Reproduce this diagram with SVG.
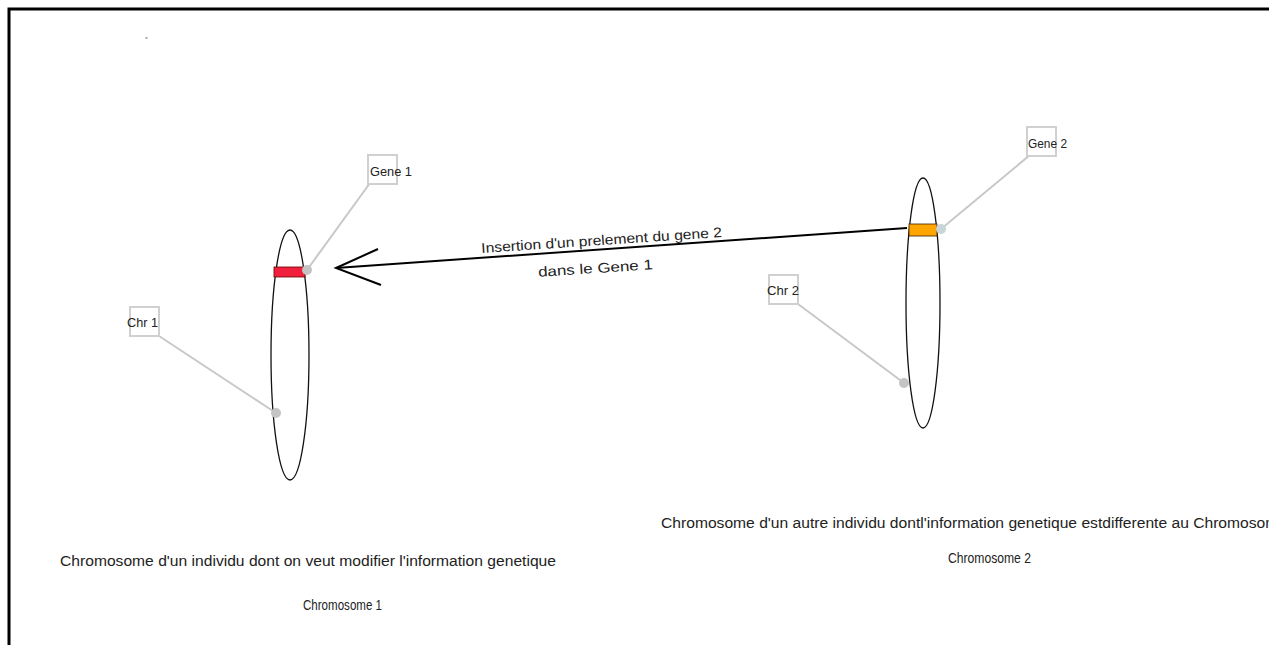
<svg xmlns="http://www.w3.org/2000/svg" width="1269" height="645" viewBox="0 0 1269 645">
<style>
.lbl{font-family:"Liberation Sans",Arial,sans-serif;font-size:13.5px;fill:#222}
.alb{font-family:"Liberation Sans",Arial,sans-serif;font-size:14px;fill:#222}
.cap{font-family:"Liberation Sans",Arial,sans-serif;font-size:14px;fill:#222}
.box{fill:#fff;stroke:#d0d0d0;stroke-width:2}
.lnk{stroke:#c8c8c8;stroke-width:2;fill:none}
.dot{fill:#c4c4c4}
.chr{fill:none;stroke:#111;stroke-width:1.3}
</style>
<rect width="1269" height="645" fill="#fff"/>
<path d="M9,645 V9 H1269" fill="none" stroke="#000" stroke-width="3"/>
<rect x="145.5" y="37.5" width="2" height="1" fill="#555"/>
<g id="connectors">
<line class="lnk" x1="370" y1="183" x2="307" y2="270"/>
<line class="lnk" x1="159" y1="336" x2="276" y2="413"/>
<line class="lnk" x1="1030" y1="155" x2="941" y2="229"/>
<line class="lnk" x1="798" y1="304" x2="904" y2="383"/>
<g id="insertion-arrow" stroke="#000" stroke-width="2" fill="none">
<line x1="907" y1="228" x2="336" y2="268"/>
<polyline points="378,249 336,268 381,285"/>
</g>
<text class="alb" x="481" y="245" textLength="241" lengthAdjust="spacingAndGlyphs" transform="rotate(-3.8 601 240)">Insertion d'un prelement du gene 2</text>
<text class="alb" x="538" y="273" textLength="115" lengthAdjust="spacingAndGlyphs" transform="rotate(-3.8 596 269)">dans le Gene 1</text>
</g>
<g id="chromosome1">
<ellipse class="chr" cx="290" cy="355" rx="19" ry="125"/>
<rect x="274" y="267" width="31" height="10" fill="#f0203c" stroke="#600" stroke-width="0.8"/>
<circle class="dot" cx="307" cy="270" r="5"/>
<circle class="dot" cx="276" cy="413" r="5"/>
</g>
<g id="gene1">
<rect class="box" x="368" y="155" width="29" height="29"/>
<text class="lbl" x="370" y="176" textLength="42" lengthAdjust="spacingAndGlyphs">Gene 1</text>
</g>
<g id="chr1">
<rect class="box" x="130" y="307" width="29" height="29"/>
<text class="lbl" x="127" y="327" textLength="31" lengthAdjust="spacingAndGlyphs">Chr 1</text>
</g>
<g id="chromosome2">
<ellipse class="chr" cx="923" cy="303" rx="17" ry="125"/>
<rect x="909" y="224" width="28" height="12" fill="#ffa500" stroke="#402000" stroke-width="0.8"/>
<circle cx="941" cy="229" r="5" fill="#c8d4d8"/>
<circle class="dot" cx="904" cy="383" r="5"/>
</g>
<g id="gene2">
<rect class="box" x="1027" y="127" width="29" height="29"/>
<text class="lbl" x="1028" y="148" textLength="39" lengthAdjust="spacingAndGlyphs">Gene 2</text>
</g>
<g id="chr2">
<rect class="box" x="769" y="275" width="29" height="29"/>
<text class="lbl" x="767" y="295" textLength="32" lengthAdjust="spacingAndGlyphs">Chr 2</text>
</g>
<g id="captions">
<text class="cap" x="60" y="566" textLength="496" lengthAdjust="spacingAndGlyphs">Chromosome d'un individu dont on veut modifier l'information genetique</text>
<text class="cap" x="303" y="610" textLength="79" lengthAdjust="spacingAndGlyphs">Chromosome 1</text>
<text class="cap" x="661" y="528" textLength="626" lengthAdjust="spacingAndGlyphs">Chromosome d'un autre individu dontl'information genetique estdifferente au Chromosome</text>
<text class="cap" x="948" y="563" textLength="83" lengthAdjust="spacingAndGlyphs">Chromosome 2</text>
</g>
</svg>
